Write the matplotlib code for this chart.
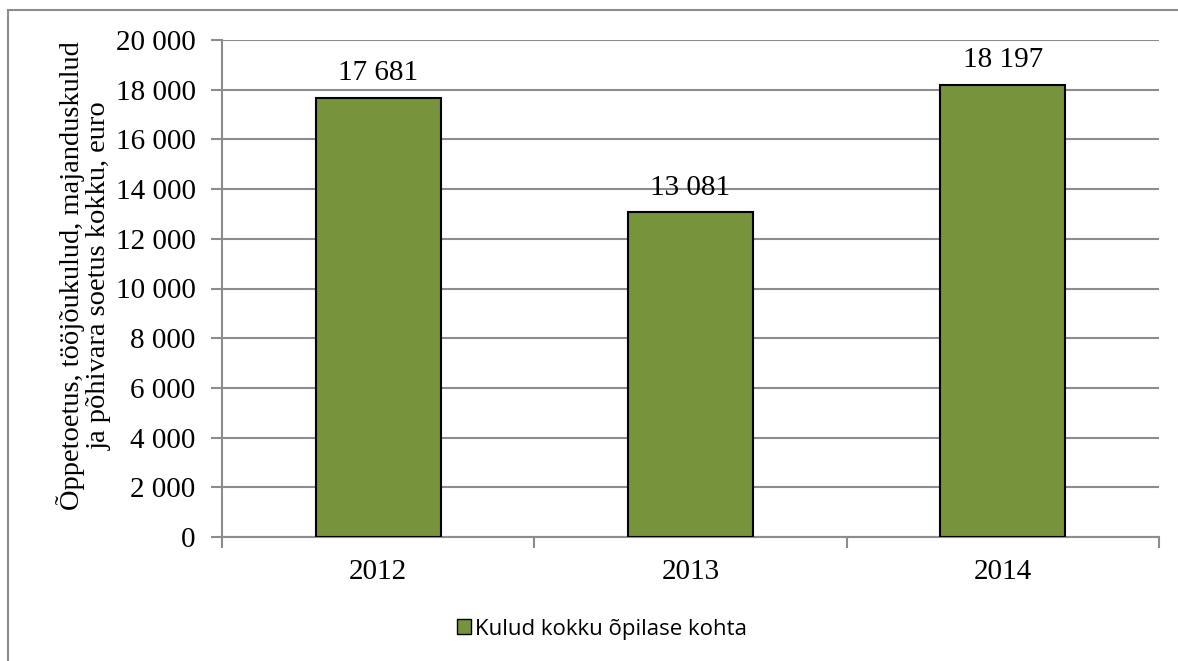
import matplotlib
matplotlib.use("Agg")
import matplotlib.pyplot as plt
from matplotlib.lines import Line2D
from matplotlib.patches import Patch

# andmed
aastad = ["2012", "2013", "2014"]
kulud = [17681, 13081, 18197]
y_ticks = [0, 2000, 4000, 6000, 8000, 10000, 12000, 14000, 16000, 18000, 20000]
seeria = "Kulud kokku õpilase kohta"

roheline = "#77933C"
hall = "#8C8C8C"

plt.rcParams["font.family"] = ["Liberation Serif", "DejaVu Serif"]

fig = plt.figure(figsize=(11.78, 6.61), dpi=100)
ax = fig.add_axes([222 / 1178, 1 - 537 / 661, (1159 - 222) / 1178, (537 - 40) / 661])

x = list(range(len(aastad)))
ax.bar(x, kulud, width=0.4, color=roheline, edgecolor="black", linewidth=1.5, zorder=3)

def tuhanded(v):
    return f"{v:,}".replace(",", " ")

for xi, v in zip(x, kulud):
    ax.annotate(tuhanded(v), (xi, v), xytext=(0, 12.5), textcoords="offset points",
                ha="center", va="baseline", fontsize=21)

ax.set_xlim(-0.5, len(aastad) - 0.5)
ax.set_ylim(0, 20000)
ax.set_yticks(y_ticks)
ax.set_yticklabels([tuhanded(t) for t in y_ticks], fontsize=21)
ax.set_xticks(x)
ax.set_xticklabels(aastad, fontsize=21)
ax.set_xticks([i - 0.5 for i in range(len(aastad) + 1)], minor=True)
ax.tick_params(axis="x", which="major", length=0, pad=16)
ax.tick_params(axis="x", which="minor", length=8, width=1.5, color=hall, direction="out")
ax.tick_params(axis="y", length=8, width=1.5, color=hall, pad=11)

ax.yaxis.grid(True, color=hall, linewidth=1.5, zorder=0)
ax.set_axisbelow(True)
for s in ["top", "right"]:
    ax.spines[s].set_visible(False)
for s in ["left", "bottom"]:
    ax.spines[s].set_color(hall)
    ax.spines[s].set_linewidth(1.5)

# telje nimi kahel real
fig.text(84 / 1178, 1 - 276 / 661, "Õppetoetus, tööjõukulud, majanduskulud\nja põhivara soetus kokku, euro",
         rotation=90, ha="center", va="center", fontsize=20.5, linespacing=1.06)

# legend
leg = fig.legend(handles=[Patch(facecolor=roheline, edgecolor="black", linewidth=1.0)],
                 labels=[seeria], loc="center", bbox_to_anchor=(602 / 1178, 1 - 629 / 661),
                 frameon=False, handlelength=0.65, handleheight=0.65, handletextpad=0.2,
                 prop={"family": ["Open Sans", "DejaVu Sans"], "size": 16})

# raam ümber
fig.add_artist(Line2D([8 / 1178, 1], [1 - 10 / 661] * 2, color=hall, linewidth=1.5,
                      transform=fig.transFigure))
fig.add_artist(Line2D([8 / 1178] * 2, [0, 1 - 10 / 661], color=hall, linewidth=1.5,
                      transform=fig.transFigure))

fig.savefig("out.png", dpi=100)
